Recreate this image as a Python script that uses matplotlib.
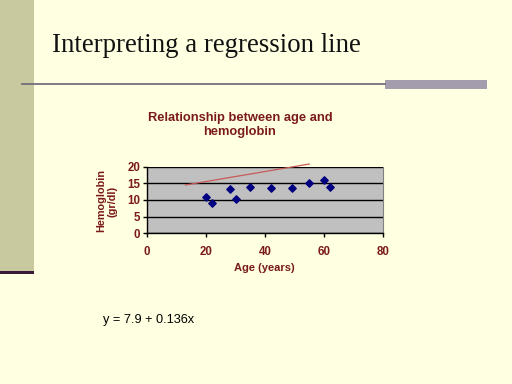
import matplotlib
matplotlib.use('Agg')
import matplotlib.pyplot as plt
from matplotlib.patches import Rectangle
from matplotlib.lines import Line2D

# data
age = [20, 22, 28, 30, 35, 42, 49, 55, 60, 62]
hb = [11, 9, 13.2, 10.3, 14, 13.7, 13.7, 15, 15.9, 14]
line_x = [13, 55]
line_y = [14.5, 20.8]
x_ticks = [0, 20, 40, 60, 80]
y_ticks = [0, 5, 10, 15, 20]

W, H = 512, 384
red = '#7a1a1a'

fig = plt.figure(figsize=(W / 100, H / 100), dpi=100)
fig.patch.set_facecolor('#ffffe1')

def fx(px):
    return px / W

def fy(py):
    return 1 - py / H

# slide decoration
fig.patches.append(Rectangle((0, fy(272)), fx(34), 1 - fy(272), transform=fig.transFigure,
                             facecolor='#c9c9a0', edgecolor='none', zorder=0))
fig.patches.append(Rectangle((0, fy(274)), fx(34), 3 / H, transform=fig.transFigure,
                             facecolor='#3a1838', edgecolor='none', zorder=1))
fig.lines.append(Line2D([fx(22), fx(385)], [fy(84), fy(84)], transform=fig.transFigure,
                        color='#6b6478', lw=1.2))
fig.patches.append(Rectangle((fx(385), fy(89)), fx(102), 9 / H, transform=fig.transFigure,
                             facecolor='#a39dad', edgecolor='none'))

fig.text(fx(52), fy(45), 'Interpreting a regression line', family='Liberation Serif',
         fontsize=19.3, color='#111111', va='center', ha='left')

# chart
ax = fig.add_axes([fx(147), fy(233.3), fx(236), 66.6 / H])
ax.set_facecolor('#c0c0c0')
ax.scatter(age, hb, marker='D', s=14, color='#000080', zorder=3)
ax.plot(line_x, line_y, color='#c85a5a', lw=0.9, zorder=3, clip_on=False)
ax.set_xlim(0, 80)
ax.set_ylim(0, 20)
ax.set_xticks(x_ticks)
ax.set_yticks(y_ticks)
ax.yaxis.grid(True, color='black', lw=1)
ax.set_axisbelow(True)
ax.spines['top'].set_visible(False)
ax.spines['right'].set_color('#808080')
ax.spines['right'].set_linewidth(0.8)
ax.spines['left'].set_linewidth(1)
ax.spines['bottom'].set_linewidth(1)
ax.tick_params(length=3, width=1, labelsize=8.3, labelcolor=red, pad=2)
for lab in ax.get_xticklabels() + ax.get_yticklabels():
    lab.set_fontweight('bold')
    lab.set_family('Liberation Sans')
ax.tick_params(axis='x', pad=6)

fig.text(fx(240), fy(125), 'Relationship between age and\nhemoglobin', ha='center', va='center',
         family='Liberation Sans', fontweight='bold', fontsize=9.3, color=red, linespacing=1.25)
fig.text(fx(107), fy(201), 'Hemoglobin\n(gr/dl)', rotation=90, ha='center', va='center',
         family='Liberation Sans', fontweight='bold', fontsize=7.8, color=red, linespacing=1.2)
fig.text(fx(264), fy(268), 'Age (years)', ha='center', va='center',
         family='Liberation Sans', fontweight='bold', fontsize=8, color=red)
fig.text(fx(103), fy(320), 'y = 7.9 + 0.136x', ha='left', va='center',
         family='Liberation Sans', fontsize=9.2, color='black')

fig.savefig('out.png', dpi=100, facecolor=fig.get_facecolor())
